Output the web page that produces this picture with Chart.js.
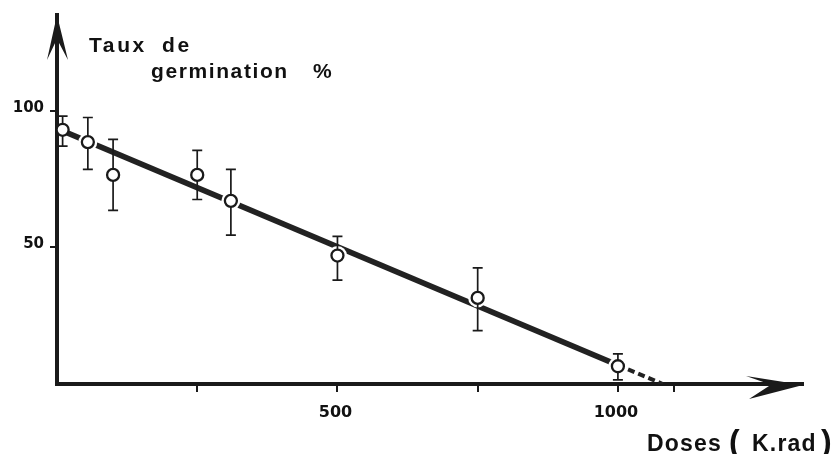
<!DOCTYPE html>
<html>
<head>
<meta charset="utf-8">
<script src="https://cdn.jsdelivr.net/npm/chart.js@4.4.1/dist/chart.umd.min.js"></script>
<style>
  html, body { margin: 0; padding: 0; background: #fff; }
  #wrap { width: 838px; height: 454px; position: relative; }
</style>
</head>
<body>
<div id="wrap"><canvas id="c"></canvas></div>
<script>
// Germination rate (%) against irradiation dose (K.rad), mean ± spread
const doses       = [10, 55, 100, 250, 310, 500, 750, 1000];
const germination = [93, 88.5, 76.5, 76.5, 67, 47, 31.5, 6.5];
const errorHigh   = [98, 97.5, 89.5, 85.5, 78.5, 54, 42.5, 11];
const errorLow    = [87, 78.5, 63.5, 67.5, 54.5, 38, 19.5, 1.5];

// Fitted straight line; the last stretch is the extrapolation to zero
const fitDoses = [10, 1000, 1080];
const fitRates = [92.6, 6.9, 0];

// Axis ticks
const xTicks = [250, 500, 750, 1000, 1100];
const xTickLabels = { 500: '500', 1000: '1000' };
const yTicks = [50, 100];
const yTickLabels = { 50: '50', 100: '100' };

const INK = '#1a1a1a';

const whiteBackground = {
  id: 'whiteBackground',
  beforeDraw(chart) {
    const ctx = chart.ctx;
    ctx.save();
    ctx.fillStyle = '#fff';
    ctx.fillRect(0, 0, chart.width, chart.height);
    ctx.restore();
  }
};

// Error bars (and a small white gap where the fitted line meets a circle)
const errorBars = {
  id: 'errorBars',
  beforeDatasetDraw(chart, args) {
    if (args.index !== 0) return;
    const ctx = chart.ctx;
    const xs = chart.scales.x, ys = chart.scales.y;
    const gapPoints = [1, 4, 5, 6, 7];
    ctx.save();
    ctx.fillStyle = '#fff';
    gapPoints.forEach(i => {
      ctx.beginPath();
      ctx.arc(xs.getPixelForValue(doses[i]), ys.getPixelForValue(germination[i]), 9.5, 0, Math.PI * 2);
      ctx.fill();
    });
    ctx.strokeStyle = INK;
    ctx.lineWidth = 1.7;
    doses.forEach((d, i) => {
      const px = xs.getPixelForValue(d);
      const top = ys.getPixelForValue(errorHigh[i]);
      const bot = ys.getPixelForValue(errorLow[i]);
      ctx.beginPath();
      ctx.moveTo(px, top); ctx.lineTo(px, bot);
      ctx.moveTo(px - 5, top); ctx.lineTo(px + 5, top);
      ctx.moveTo(px - 5, bot); ctx.lineTo(px + 5, bot);
      ctx.stroke();
    });
    ctx.restore();
  }
};

// Arrow heads on both axes and the axis captions
const axisDecor = {
  id: 'axisDecor',
  afterDraw(chart) {
    const ctx = chart.ctx;
    const a = chart.chartArea;
    ctx.save();
    ctx.fillStyle = INK;
    // vertical arrow
    const vx = a.left, vy = a.top;
    ctx.beginPath();
    ctx.moveTo(vx, vy);
    ctx.lineTo(vx + 11, vy + 45);
    ctx.lineTo(vx + 1, vy + 26);
    ctx.lineTo(vx - 1, vy + 26);
    ctx.lineTo(vx - 10, vy + 45);
    ctx.closePath();
    ctx.fill();
    // horizontal arrow
    const hx = a.right, hy = a.bottom;
    ctx.beginPath();
    ctx.moveTo(hx, hy + 1);
    ctx.lineTo(hx - 57, hy - 8);
    ctx.lineTo(hx - 34, hy);
    ctx.lineTo(hx - 34, hy + 2);
    ctx.lineTo(hx - 54, hy + 15);
    ctx.closePath();
    ctx.fill();

    // captions
    ctx.fillStyle = '#111';
    ctx.textBaseline = 'alphabetic';
    ctx.textAlign = 'left';
    ctx.font = 'bold 21px "Liberation Sans", Arial, sans-serif';
    ctx.letterSpacing = '2.6px';
    ctx.fillText('Taux', 89, 52);
    ctx.fillText('de', 162, 52);
    ctx.letterSpacing = '1.6px';
    ctx.fillText('germination', 151, 78);
    ctx.letterSpacing = '0px';
    ctx.fillText('%', 313, 78);

    ctx.font = 'bold 23px "Liberation Sans", Arial, sans-serif';
    ctx.letterSpacing = '1.2px';
    ctx.fillText('Doses', 647, 451);
    ctx.fillText('K.rad', 752, 451);
    ctx.letterSpacing = '0px';
    ctx.font = 'bold 32px "Liberation Sans", Arial, sans-serif';
    ctx.fillText('(', 729, 452);
    ctx.fillText(')', 821, 452);
    ctx.restore();
  }
};

const pointData = doses.map((d, i) => ({ x: d, y: germination[i] }));
const fitData = fitDoses.map((d, i) => ({ x: d, y: fitRates[i] }));

new Chart(document.getElementById('c'), {
  data: {
    datasets: [
      {
        type: 'scatter',
        data: pointData,
        pointRadius: 6,
        pointBorderWidth: 2.3,
        pointBackgroundColor: '#fff',
        pointBorderColor: INK,
        clip: false
      },
      {
        type: 'line',
        data: fitData,
        borderColor: '#222',
        borderWidth: 5.5,
        pointRadius: 0,
        fill: false,
        tension: 0,
        borderCapStyle: 'butt',
        segment: {
          borderDash: ctx => ctx.p0DataIndex === 1 ? [7, 4] : undefined,
          borderWidth: ctx => ctx.p0DataIndex === 1 ? 4 : 5.5
        }
      }
    ]
  },
  options: {
    responsive: true,
    maintainAspectRatio: false,
    animation: false,
    events: [],
    layout: { padding: { left: 0, top: 12, right: 35, bottom: 0 } },
    plugins: { legend: { display: false }, tooltip: { enabled: false } },
    scales: {
      x: {
        type: 'linear',
        min: 0,
        max: 1330,
        afterFit(scale) { scale.height = 70; },
        afterBuildTicks(scale) { scale.ticks = xTicks.map(v => ({ value: v })); },
        grid: { drawOnChartArea: false, drawTicks: true, tickLength: 8, lineWidth: 2, color: INK },
        border: { display: true, width: 4, color: INK },
        ticks: {
          autoSkip: false,
          maxRotation: 0,
          padding: 11,
          labelOffset: -2,
          color: '#111',
          font: { family: '"DejaVu Sans", sans-serif', weight: 'bold', size: 16 },
          callback: v => xTickLabels[v] || ''
        }
      },
      y: {
        type: 'linear',
        min: 0,
        max: 135,
        afterFit(scale) { scale.width = 57; },
        afterBuildTicks(scale) { scale.ticks = yTicks.map(v => ({ value: v })); },
        grid: { drawOnChartArea: false, drawTicks: true, tickLength: 7, lineWidth: 2, color: INK },
        border: { display: true, width: 4, color: INK },
        ticks: {
          padding: 6,
          labelOffset: -3,
          color: '#111',
          font: { family: '"DejaVu Sans", sans-serif', weight: 'bold', size: 15 },
          callback: v => yTickLabels[v] || ''
        }
      }
    }
  },
  plugins: [whiteBackground, errorBars, axisDecor]
});
</script>
</body>
</html>
